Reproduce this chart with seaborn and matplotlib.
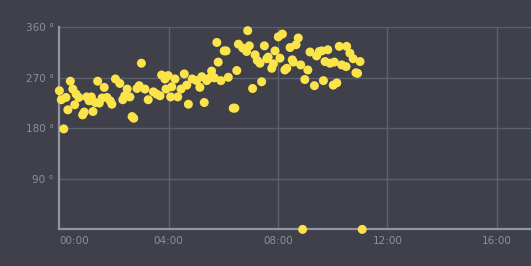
import matplotlib
matplotlib.use("Agg")
import matplotlib.pyplot as plt
import seaborn as sns
import pandas as pd

# time of day in hours, wind direction in degrees
hours = [0.00, 0.16, 0.40, 0.24, 0.07, 0.49, 0.31, 0.56, 0.61, 0.71,
         0.85, 0.91, 1.00, 1.09, 1.17, 1.23, 1.40, 1.31, 1.46, 1.64,
         1.56, 1.74, 1.92, 1.86, 2.05, 2.21, 2.32, 2.39, 2.48, 2.58,
         2.66, 2.72, 2.84, 2.92, 3.00, 3.13, 3.25, 3.44, 3.56, 3.68,
         3.74, 3.86, 3.98, 3.90, 4.11, 4.07, 4.23, 4.33, 4.45, 4.57,
         4.66, 4.72, 4.86, 5.02, 5.14, 5.21, 5.30, 5.39, 5.47, 5.57,
         5.67, 5.81, 5.91, 6.89, 5.76, 6.03, 6.10, 6.55, 6.71, 6.95,
         6.85, 7.16, 7.24, 7.34, 7.50, 7.59, 7.64, 7.89, 7.83, 7.77,
         8.01, 8.16, 8.07, 8.25, 8.32, 8.44, 8.52, 6.18, 6.49, 7.40,
         7.07, 6.36, 6.42, 8.74, 8.66, 8.56, 8.83, 9.09, 8.98, 9.33,
         9.66, 10.02, 10.15, 9.17, 9.41, 9.51, 9.60, 9.82, 9.72, 9.90,
         10.06, 10.24, 10.51, 10.33, 10.49, 10.63, 10.75, 11.00, 10.85, 10.91,
         8.90, 11.08]
degrees = [247, 179, 264, 235, 231, 250, 213, 222, 241, 235,
           204, 209, 236, 229, 236, 210, 264, 226, 225, 253,
           234, 235, 223, 229, 268, 260, 231, 238, 250, 236,
           201, 198, 251, 256, 296, 250, 231, 245, 241, 238,
           275, 268, 274, 250, 254, 236, 268, 236, 250, 277,
           257, 223, 268, 265, 253, 272, 226, 265, 269, 282,
           270, 298, 265, 354, 333, 318, 318, 330, 323, 327,
           317, 311, 301, 296, 327, 304, 307, 318, 295, 287,
           343, 348, 305, 284, 287, 324, 302, 271, 283, 263,
           251, 216, 216, 341, 329, 298, 293, 284, 267, 256,
           265, 257, 261, 316, 309, 317, 318, 320, 299, 296,
           298, 326, 326, 293, 290, 314, 304, 299, 279, 278,
           0, 0]
tick_hours = [0, 4, 8, 12, 16]
tick_labels = ["00:00", "04:00", "08:00", "12:00", "16:00"]
y_ticks = [90, 180, 270, 360]
y_labels = ["90 °", "180 °", "270 °", "360 °"]

df = pd.DataFrame({"hour": hours, "deg": degrees})

BG = "#40404b"
GRID = "#5c5f6c"
AXIS = "#8c96a5"
TXT = "#8e8f9a"
PT = "#fbe34a"

sns.set_theme(style="dark")
plt.rcParams["font.family"] = ["DejaVu Sans"]

fig = plt.figure(figsize=(5.31, 2.66), dpi=100, facecolor=BG)
ax = fig.add_axes([59.4 / 531, 36.6 / 266, 1 - 59.4 / 531, (229.4 - 27.3) / 266])
ax.set_facecolor(BG)

sns.scatterplot(data=df, x="hour", y="deg", ax=ax, color=PT, s=42,
                edgecolor="none", linewidth=0, zorder=5, clip_on=False, legend=False)

ax.set_xlim(0, (531 - 59.4) / 27.33)
ax.set_ylim(0, 360)

for v in y_ticks:
    ax.axhline(v, color=GRID, lw=1, zorder=1)
for v in tick_hours[1:]:
    ax.axvline(v, color=GRID, lw=1, zorder=1)

ax.set_yticks(y_ticks)
ax.set_yticklabels(y_labels)
ax.set_xticks(tick_hours)
ax.set_xticklabels(tick_labels)
ax.tick_params(axis="both", length=0, colors=TXT, labelsize=7.5)
ax.tick_params(axis="y", pad=4)
ax.tick_params(axis="x", pad=5)
ax.get_xticklabels()[0].set_horizontalalignment("left")
ax.set_xlabel("")
ax.set_ylabel("")
ax.grid(False)

for side in ["top", "right"]:
    ax.spines[side].set_visible(False)
for side in ["left", "bottom"]:
    ax.spines[side].set_visible(True)
    ax.spines[side].set_color(AXIS)
    ax.spines[side].set_linewidth(1.6)
    ax.spines[side].set_zorder(3)

fig.savefig("out.png", dpi=100, facecolor=BG)
